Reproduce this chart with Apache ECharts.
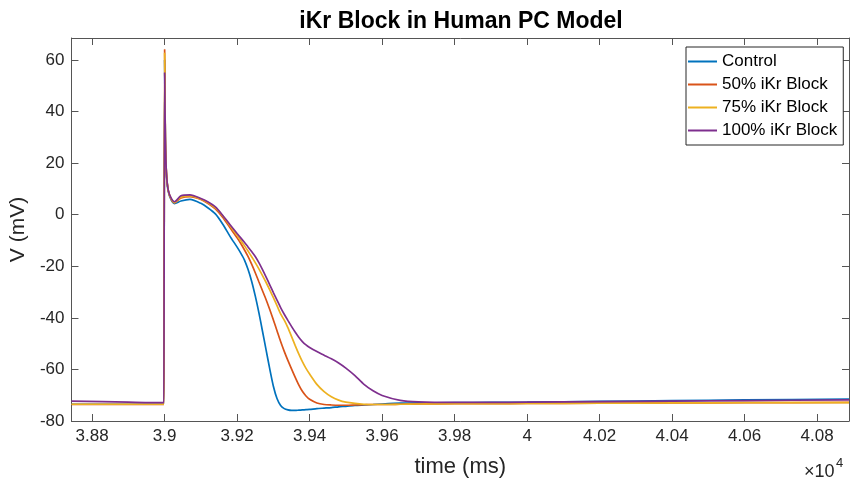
<!DOCTYPE html>
<html>
<head>
<meta charset="utf-8">
<script src="https://cdn.jsdelivr.net/npm/echarts@6/dist/echarts.min.js"></script>
<style>html,body{margin:0;padding:0;background:#fff;}#c{width:852px;height:483px;}</style>
</head>
<body>
<div id="c"></div>
<script>
const seriesNames = ['Control', '50% iKr Block', '75% iKr Block', '100% iKr Block'];
const xTicks = [38800, 39000, 39200, 39400, 39600, 39800, 40000, 40200, 40400, 40600, 40800];
const yTicks = [-80, -60, -40, -20, 0, 20, 40, 60];
const time = [38743, 38900, 38998, 38999, 39000, 39002, 39005, 39010, 39018, 39027, 39045, 39070, 39100, 39120, 39140, 39160, 39180, 39200, 39210, 39220, 39230, 39240, 39250, 39260, 39270, 39280, 39290, 39300, 39310, 39320, 39330, 39340, 39350, 39360, 39370, 39380, 39390, 39400, 39420, 39440, 39460, 39480, 39500, 39525, 39550, 39575, 39600, 39650, 39700, 39800, 39900, 40000, 40200, 40400, 40600, 40888];
const control = [-73.5, -73.5, -73.5, -73.5, 60, 29, 15.5, 9, 5.7, 4.3, 5.3, 5.9, 4.4, 2.6, 0.3, -3.6, -8.3, -12.6, -14.9, -17.5, -21.2, -25.8, -31.5, -38.0, -45.2, -52.5, -59.8, -66.5, -71.3, -74.0, -75.2, -75.7, -75.9, -75.9, -75.8, -75.7, -75.6, -75.5, -75.2, -75.0, -74.8, -74.5, -74.3, -74.0, -73.8, -73.6, -73.4, -73.1, -73.0, -72.9, -72.8, -72.7, -72.4, -72.1, -71.8, -71.5];
const block50 = [-73.6, -73.6, -73.6, -73.6, 64, 29.5, 15.8, 9.3, 6.0, 4.6, 6.5, 7.0, 5.9, 4.3, 2.2, -1.0, -5.0, -9.0, -11.2, -13.6, -16.2, -19.2, -22.5, -26.0, -29.5, -33.0, -36.8, -40.8, -45.0, -49.2, -53.0, -56.5, -59.8, -63.0, -66.0, -68.5, -70.3, -71.6, -73.0, -73.6, -73.8, -73.9, -73.9, -73.8, -73.7, -73.6, -73.6, -73.5, -73.4, -73.3, -73.3, -73.2, -73.1, -73.0, -72.9, -72.8];
const block75 = [-73.5, -73.5, -73.5, -73.5, 62.7, 29.7, 15.9, 9.4, 6.1, 4.7, 6.8, 7.3, 6.1, 4.6, 2.6, -0.4, -4.2, -8.0, -10.0, -12.0, -14.1, -16.3, -18.6, -21.0, -23.6, -26.3, -29.2, -32.2, -35.3, -38.5, -40.9, -43.8, -47.2, -50.7, -54.0, -57.0, -59.6, -61.8, -65.8, -68.6, -70.6, -71.9, -72.7, -73.2, -73.5, -73.6, -73.6, -73.5, -73.4, -73.3, -73.3, -73.2, -73.1, -73.0, -72.9, -72.9];
const block100 = [-72.3, -72.7, -72.9, -72.9, 55, 30, 16.2, 9.5, 6.4, 5.0, 7.3, 7.7, 6.3, 4.9, 3.0, -0.2, -3.8, -7.3, -9.0, -10.7, -12.5, -14.3, -16.2, -18.6, -21.3, -24.2, -27.2, -30.2, -33.1, -36.0, -38.6, -41.0, -43.3, -45.5, -47.5, -49.2, -50.5, -51.5, -53.1, -54.5, -55.9, -57.5, -59.5, -62.4, -65.8, -68.3, -70.1, -72.0, -72.6, -72.8, -72.8, -72.7, -72.5, -72.3, -72.1, -71.8];
const colors = ['#0072BD', '#D95319', '#EDB120', '#7E2F8E'];

const allValues = [control, block50, block75, block100];
const FONT = '"Liberation Sans", Arial, Helvetica, sans-serif';
const chart = echarts.init(document.getElementById('c'), null, {renderer: 'canvas'});
const axisLineStyle = {color: '#555', width: 1};
const fmtX = v => String(+(v / 1e4).toFixed(2));
const option = {
  animation: false,
  backgroundColor: '#fff',
  color: colors,
  title: {
    text: 'iKr Block in Human PC Model',
    left: 456, top: 5, textAlign: 'center',
    textStyle: {fontFamily: FONT, fontSize: 23, fontWeight: 'bold', color: '#000'}
  },
  grid: {left: 70, right: 3, top: 38, bottom: 62, containLabel: false},
  legend: {
    orient: 'vertical', left: 686, top: 47,
    data: seriesNames.map(n => ({name: n, icon: 'rect'})),
    itemWidth: 29, itemHeight: 2, itemGap: 6,
    padding: [6, 6, 6, 2],
    backgroundColor: '#fff', borderColor: '#262626', borderWidth: 1,
    textStyle: {fontFamily: FONT, fontSize: 17, color: '#000', lineHeight: 17}
  },
  xAxis: [{
    type: 'value', min: 38743, max: 40888,
    name: 'time (ms)', nameLocation: 'middle', nameGap: 35,
    nameTextStyle: {fontFamily: FONT, fontSize: 22, color: '#262626'},
    axisLine: {show: true, onZero: false, lineStyle: axisLineStyle},
    axisTick: {show: true, inside: true, length: 7, lineStyle: axisLineStyle, customValues: xTicks},
    axisLabel: {fontFamily: FONT, fontSize: 17, color: '#262626', margin: 7, customValues: xTicks, formatter: fmtX},
    splitLine: {show: false}
  }, {
    type: 'value', position: 'top', min: 38743, max: 40888,
    axisLine: {show: true, onZero: false, lineStyle: axisLineStyle},
    axisTick: {show: true, inside: true, length: 7, lineStyle: axisLineStyle, customValues: xTicks},
    axisLabel: {show: false},
    splitLine: {show: false}
  }],
  yAxis: [{
    type: 'value', min: -80, max: 68.5,
    name: 'V (mV)', nameLocation: 'middle', nameGap: 35,
    nameTextStyle: {fontFamily: FONT, fontSize: 21, color: '#262626'},
    axisLine: {show: true, onZero: false, lineStyle: axisLineStyle},
    axisTick: {show: true, inside: true, length: 7, lineStyle: axisLineStyle, customValues: yTicks},
    axisLabel: {fontFamily: FONT, fontSize: 17, color: '#262626', margin: 7, customValues: yTicks},
    splitLine: {show: false}
  }, {
    type: 'value', position: 'right', min: -80, max: 68.5,
    axisLine: {show: true, onZero: false, lineStyle: axisLineStyle},
    axisTick: {show: true, inside: true, length: 7, lineStyle: axisLineStyle, customValues: yTicks},
    axisLabel: {show: false},
    splitLine: {show: false}
  }],
  graphic: [
    {type: 'text', left: 804, top: 463, style: {text: '×10', fontFamily: FONT, fontSize: 18, fill: '#262626'}},
    {type: 'text', left: 836, top: 457, style: {text: '4', fontFamily: FONT, fontSize: 13, fill: '#262626'}}
  ],
  series: seriesNames.map((name, i) => ({
    name: name,
    type: 'line',
    xAxisIndex: 0, yAxisIndex: 0,
    data: time.map((t, j) => [t, allValues[i][j]]),
    showSymbol: false, symbol: 'none',
    smooth: 0.25, smoothConstraint: true,
    lineStyle: {width: 1.7, color: colors[i]},
    itemStyle: {color: colors[i]},
    z: 2 + i
  }))
};
chart.setOption(option);
</script>
</body>
</html>
